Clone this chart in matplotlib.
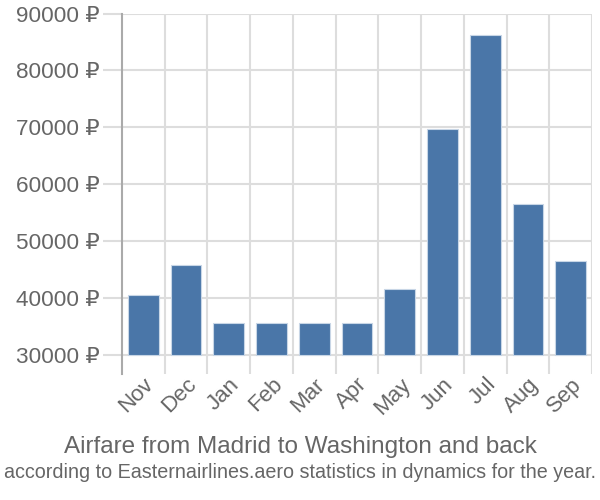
import matplotlib
matplotlib.use("Agg")
import matplotlib.pyplot as plt
import matplotlib.transforms as mtransforms
import numpy as np

plt.rcParams['font.family'] = ['Liberation Sans', 'DejaVu Sans']

months = ['Nov', 'Dec', 'Jan', 'Feb', 'Mar', 'Apr', 'May', 'Jun', 'Jul', 'Aug', 'Sep']
prices = [40500, 45800, 35700, 35700, 35700, 35700, 41600, 69800, 86200, 56600, 46600]
yticks = [30000, 40000, 50000, 60000, 70000, 80000, 90000]

bar_color = '#4a76a8'
grid_color = '#dddddd'
text_color = '#666666'

fig = plt.figure(figsize=(6, 5), dpi=100)
ax = fig.add_axes([0.203, 0.252, 0.784, 0.721])

x = np.arange(len(months))
base = 30000
ax.bar(x, [p - base for p in prices], bottom=base, width=0.72,
       color=bar_color, edgecolor='#c8d6e6', linewidth=0.8, zorder=3)

ax.set_xlim(-0.5, len(months) - 0.5)
ax.set_ylim(26700, 90000)

ax.set_yticks(yticks)
ax.set_yticklabels([f'{v} ₽' for v in yticks])
ax.set_xticks(x)
ax.set_xticklabels(months, rotation=45, ha='right', rotation_mode='anchor')

# nudge month labels up/left to sit right under the grid
offset = mtransforms.ScaledTranslation(-0.05, 0.047, fig.dpi_scale_trans)
for lab in ax.get_xticklabels():
    lab.set_transform(lab.get_transform() + offset)

# vertical grid at category boundaries
for b in np.arange(0.5, len(months), 1.0):
    ax.axvline(b, color=grid_color, linewidth=1.5, zorder=0)
ax.yaxis.grid(True, color=grid_color, linewidth=1.5, zorder=0)

for s in ['top', 'right', 'bottom']:
    ax.spines[s].set_visible(False)
ax.spines['left'].set_color('#aaaaaa')
ax.spines['left'].set_linewidth(1.5)

ax.tick_params(axis='y', length=14, width=1.5, color=grid_color,
               labelsize=16.2, labelcolor=text_color, pad=2)
ax.tick_params(axis='x', length=0, labelsize=16, labelcolor=text_color, pad=0)

fig.text(0.5, 0.094, 'Airfare from Madrid to Washington and back',
         ha='center', va='baseline', fontsize=17.5, color=text_color)
fig.text(0.5, 0.044, 'according to Easternairlines.aero statistics in dynamics for the year.',
         ha='center', va='baseline', fontsize=14.2, color=text_color)

fig.savefig('out.png', dpi=100)
